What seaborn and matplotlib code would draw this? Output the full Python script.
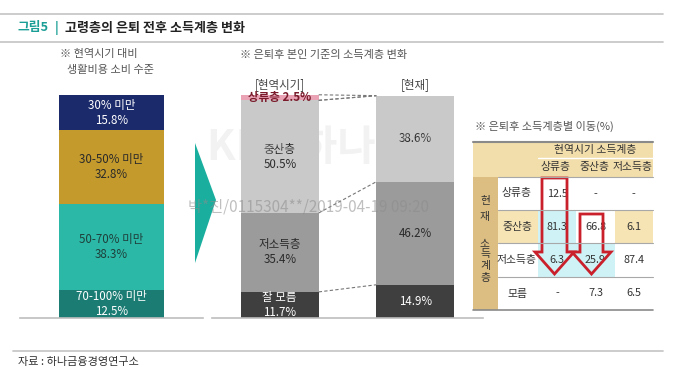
import numpy as np
import pandas as pd
import matplotlib.pyplot as plt
import matplotlib.patches as mpatches
from matplotlib.colors import ListedColormap
import seaborn as sns

sns.set_style('white')
plt.rcParams['font.family'] = ['Noto Sans CJK KR', 'DejaVu Sans']

# left bar: 현역시기 대비 생활비용 소비 수준 (top -> bottom)
spend_labels = ['30% 미만', '30-50% 미만', '50-70% 미만', '70-100% 미만']
spend_values = [15.8, 32.8, 38.3, 12.5]

# middle bars: 은퇴후 본인 기준의 소득계층 (top -> bottom)
period_labels = ['[현역시기]', '[현재]']
class_labels = ['상류층', '중산층', '저소득층', '잘 모름']
before_values = [2.5, 50.5, 35.4, 11.7]
after_values = [0.0, 38.6, 46.2, 14.9]

# table: 은퇴후 소득계층별 이동(%)  rows = 현재, cols = 현역시기
from_classes = ['상류층', '중산층', '저소득층']
to_classes = ['상류층', '중산층', '저소득층', '모름']
move_values = [[12.5, np.nan, np.nan],
               [81.3, 66.8, 6.1],
               [6.3, 25.9, 87.4],
               [np.nan, 7.3, 6.5]]
# cell shading: 0 white, 1 cyan, 2 light gold
move_shade = [[0, 0, 0],
              [1, 0, 2],
              [1, 1, 0],
              [0, 0, 0]]

spend_colors = ['#1b2a6b', '#c49a2c', '#2bb8a7', '#1b7c74']
spend_text = ['white', '#2a2a2a', '#1f3f3a', 'white']
class_colors = ['#e9a3b5', '#c9c9c9', '#9b9b9b', '#3f3f3f']
class_text = ['#7a1c2c', '#2a2a2a', '#2a2a2a', 'white']
gold = '#f2deab'
tan = '#dcbd82'
pale_gold = '#f6e4b5'
cyan = '#cff2f6'
red = '#c9202c'
teal = '#1aae9f'

FS_BAR = 8.3
FS_TAB = 7.8
FS_NOTE = 8

W, H = 680, 376
fig = plt.figure(figsize=(6.8, 3.76), dpi=100)


def px_axes(x0, y0, x1, y1, z=1):
    return fig.add_axes([x0 / W, 1 - y1 / H, (x1 - x0) / W, (y1 - y0) / H], zorder=z)


def bracket(ax, ticks):
    for s in ['top', 'left', 'right']:
        ax.spines[s].set_visible(False)
    ax.spines['bottom'].set_color('#bdbdbd')
    ax.spines['bottom'].set_linewidth(1.2)
    ax.set_xticks(ticks)
    ax.set_xticklabels([])
    ax.set_yticks([])
    ax.tick_params(axis='x', direction='out', length=5, width=1, color='#bdbdbd')
    ax.set_xlabel('')
    ax.set_ylabel('')
    ax.patch.set_visible(False)


# background / decoration layer
bg = px_axes(0, 0, W, H, z=0)
bg.set_xlim(0, W)
bg.set_ylim(H, 0)
bg.axis('off')

for y in [14, 42]:
    bg.plot([0, 663], [y, y], color='#c8c8c8', lw=1.3)
bg.plot([13, 663], [351, 351], color='#c8c8c8', lw=1.3)

bg.text(18, 28, '그림5', color='#1a9e95', fontsize=9.2, fontweight='bold', va='center')
bg.text(55, 28, '|', color='#1a9e95', fontsize=9.2, fontweight='bold', va='center')
bg.text(65, 28, '고령층의 은퇴 전후 소득계층 변화', color='#222222', fontsize=9.4,
        fontweight='bold', va='center')
bg.text(18, 362, '자료 : 하나금융경영연구소', color='#333333', fontsize=FS_NOTE, va='center')

bg.text(60, 54, '※ 현역시기 대비', color='#555555', fontsize=FS_NOTE, va='center')
bg.text(67, 70, '생활비용 소비 수준', color='#555555', fontsize=FS_NOTE, va='center')
bg.text(240, 55, '※ 은퇴후 본인 기준의 소득계층 변화', color='#555555', fontsize=FS_NOTE, va='center')
bg.text(475, 126, '※ 은퇴후 소득계층별 이동(%)', color='#555555', fontsize=FS_NOTE, va='center')

bg.add_patch(mpatches.Polygon([(195, 143), (216, 200), (195, 263)], closed=True,
                              facecolor=teal, edgecolor='none'))

# ---- left stacked bar ----
ax1 = px_axes(20, 95, 203, 318)
spend_cum = np.cumsum(spend_values[::-1])[::-1]
for h, c in zip(spend_cum, spend_colors):
    sns.barplot(x=[0], y=[h], color=c, width=0.574, saturation=1, errorbar=None,
                linewidth=0, edgecolor='none', ax=ax1)
ax1.set_xlim(-0.5, 0.5)
ax1.set_ylim(0, spend_cum[0])
bracket(ax1, [-0.5, 0.5])
for lab, v, top, tc in zip(spend_labels, spend_values, spend_cum, spend_text):
    ax1.text(0, top - v / 2, f'{lab}\n{v}%', ha='center', va='center', color=tc,
             fontsize=FS_BAR, linespacing=1.2, clip_on=True)

# ---- middle stacked bars ----
ax2 = px_axes(212, 95, 483, 318)
before_cum = np.cumsum(before_values[::-1])[::-1]
after_cum = np.cumsum(after_values[::-1])[::-1]
bw = 0.575
for i, c in enumerate(class_colors):
    sns.barplot(x=period_labels, y=[before_cum[i], after_cum[i]], color=c, width=bw,
                saturation=1, errorbar=None, linewidth=0, edgecolor='none', ax=ax2)
ax2.set_xlim(-0.5, 1.5)
ax2.set_ylim(0, 100)
bracket(ax2, [-0.5, 0.5, 1.5])

# dashed connectors between class boundaries
hw = bw / 2
for i in range(4):
    ax2.plot([hw, 1 - hw], [before_cum[i], after_cum[i]], color='#777777', lw=0.8,
             ls=(0, (3, 2)), clip_on=False)
ax2.plot([hw, 1 - hw], [before_cum[1], after_cum[0]], color='#777777', lw=0.8,
         ls=(0, (3, 2)), clip_on=False)

for j, lab in enumerate(period_labels):
    ax2.text(j, 104.5, lab, ha='center', va='center', color='#444444', fontsize=FS_BAR,
             clip_on=False)

for i, (lab, v) in enumerate(zip(class_labels, before_values)):
    y = before_cum[i] - v / 2
    if v < 5:
        ax2.text(0, y, f'{lab} {v}%', ha='center', va='center', color=class_text[i],
                 fontsize=FS_BAR, fontweight='bold', clip_on=False)
    else:
        ax2.text(0, y, f'{lab}\n{v}%', ha='center', va='center', color=class_text[i],
                 fontsize=FS_BAR, linespacing=1.2, clip_on=True)
for i, v in enumerate(after_values):
    if v > 0:
        ax2.text(1, after_cum[i] - v / 2, f'{v}%', ha='center', va='center',
                 color=class_text[i], fontsize=FS_BAR)

# ---- table ----
bg.add_patch(mpatches.Rectangle((473, 142), 180, 35, facecolor=gold, edgecolor='none'))
bg.add_patch(mpatches.Rectangle((473, 177), 25, 133, facecolor=tan, edgecolor='none'))
bg.add_patch(mpatches.Rectangle((498, 210), 40, 33, facecolor=pale_gold, edgecolor='none'))

ax3 = px_axes(538, 177, 653, 310)
annot = [['-' if np.isnan(v) else f'{v}' for v in row] for row in move_values]
sns.heatmap(pd.DataFrame(move_shade, index=to_classes, columns=from_classes),
            cmap=ListedColormap(['white', cyan, pale_gold]), vmin=-0.5, vmax=2.5,
            cbar=False, annot=np.array(annot), fmt='', xticklabels=False, yticklabels=False,
            annot_kws=dict(fontsize=FS_TAB, color='#333333'), ax=ax3)
ax3.set_xlabel('')
ax3.set_ylabel('')

# overlay layer
top = px_axes(0, 0, W, H, z=10)
top.set_xlim(0, W)
top.set_ylim(H, 0)
top.axis('off')

top.plot([473, 653], [142, 142], color='#8a8a8a', lw=1.5)
top.plot([538, 653], [158, 158], color='white', lw=1)
for y in [177, 210, 243, 277]:
    top.plot([498, 653], [y, y], color='#a8a8a8', lw=0.8)
top.plot([473, 653], [310, 310], color='#8a8a8a', lw=1.2)

top.text(595, 150, '현역시기 소득계층', ha='center', va='center', fontsize=FS_TAB, color='#333333')
for x, lab in zip([556, 594, 633], from_classes):
    top.text(x, 167, lab, ha='center', va='center', fontsize=FS_TAB, color='#333333')
for y, lab in zip([193, 227, 260, 294], to_classes):
    top.text(517, y, lab, ha='center', va='center', fontsize=FS_TAB, color='#333333')
for y, ch in zip([201, 217, 243, 254, 266, 278], ['현', '재', '소', '득', '계', '층']):
    top.text(485, y, ch, ha='center', va='center', fontsize=FS_TAB, color='#333333')

arrow1 = [(542, 178), (567, 178), (567, 252), (574, 252), (554.5, 274), (535, 252), (542, 252)]
arrow2 = [(580, 214), (603, 214), (603, 252), (611, 252), (591.5, 274), (572, 252), (580, 252)]
for poly in [arrow1, arrow2]:
    top.add_patch(mpatches.Polygon(poly, closed=True, facecolor='none', edgecolor=red, lw=2))

# watermarks
top.text(330, 148, 'KEB 하나은행', ha='center', va='center', fontsize=30, fontweight='bold',
         color='#cccccc', alpha=0.25)
top.text(188, 207, '박*진/0115304**/2019-04-19 09:20', ha='left', va='center', fontsize=11,
         color='#8c8c8c', alpha=0.55)

fig.savefig('out.png', dpi=100)
